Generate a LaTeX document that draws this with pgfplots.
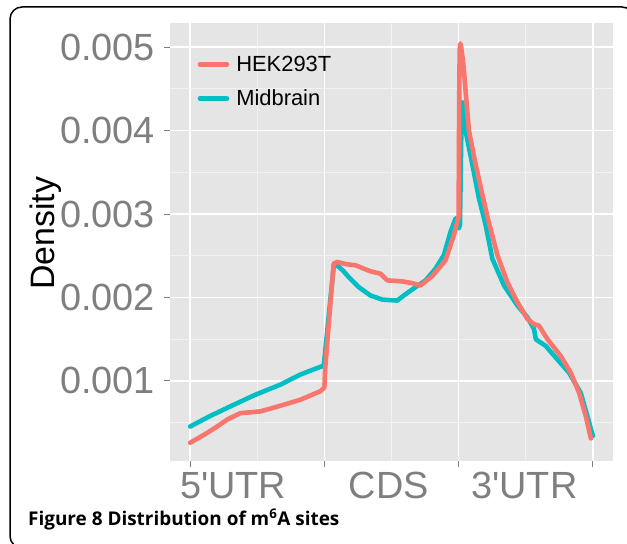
\documentclass[border=0pt]{standalone}
\usepackage{fontspec}
\setmainfont{Liberation Sans}
\newfontfamily\capfont{Open Sans}
\usepackage{pgfplots}
\pgfplotsset{compat=1.18}
\definecolor{hek}{HTML}{F8766D}
\definecolor{mid}{HTML}{00BFC4}
\definecolor{panel}{HTML}{E5E5E5}
\definecolor{minorgrid}{HTML}{F2F2F2}
\definecolor{tickgray}{HTML}{7F7F7F}
\begin{document}
\begin{tikzpicture}
\useasboundingbox (0,0) rectangle (627bp,544bp);
\draw[line width=1.5bp, rounded corners=12bp] (10bp,-4bp) rectangle (634bp,537bp);
\begin{axis}[
  at={(170bp,83bp)}, anchor=south west,
  scale only axis, width=443bp, height=438bp,
  xmin=-0.15, xmax=3.15, ymin=0.00004, ymax=0.00529,
  axis background/.style={fill=panel},
  axis line style={draw=none},
  tick pos=left, tick align=outside,
  major tick length=6bp, minor tick length=0pt,
  every tick/.style={tickgray, line width=1bp},
  xtick={0,1,2,3}, xticklabels={},
  minor xtick={0.5,1.5,2.5},
  extra x ticks={0.32,1.48,2.49},
  extra x tick labels={5\textquotesingle UTR,CDS,3\textquotesingle UTR},
  extra x tick style={grid=none, major tick length=0pt,
     xticklabel style={anchor=north, inner sep=0pt, yshift=-11bp}},
  ytick={0.001,0.002,0.003,0.004,0.005},
  minor ytick={0.0005,0.0015,0.0025,0.0035,0.0045},
  scaled y ticks=false,
  /pgf/number format/fixed, /pgf/number format/fixed zerofill,
  /pgf/number format/precision=3, /pgf/number format/assume math mode=true,
  yticklabel style={anchor=east, inner sep=0pt, xshift=-9bp},
  tick label style={font=\fontsize{38}{40}\selectfont, text=tickgray},
  grid=both,
  major grid style={white, line width=1.6bp},
  minor grid style={minorgrid, line width=1bp},
  ylabel={Density},
  ylabel style={at={(axis description cs:-0.26,0.52)}, anchor=base, font=\fontsize{34}{36}\selectfont, text=black},
  legend style={at={(axis description cs:0.062,0.925)}, anchor=north west, draw=none, fill=none,
     inner sep=0pt, font=\fontsize{22}{24}\selectfont, row sep=17bp, column sep=7bp,
     nodes={inner sep=0pt}},
  legend cell align=left,
  reverse legend,
  legend image code/.code={\draw[#1] (0bp,0bp) -- (27bp,0bp);},
  every axis plot/.append style={line width=4.6bp, line join=round, line cap=round},
]
\addplot[mid] coordinates {
(0.000,0.000453) (0.150,0.000580) (0.299,0.000694) (0.480,0.000830) (0.672,0.000955) (0.821,0.001076) (0.970,0.001169)
(0.995,0.001178) (1.003,0.001300) (1.069,0.002366) (1.095,0.002386) (1.140,0.002320) (1.181,0.002245)
(1.256,0.002124) (1.343,0.002024) (1.431,0.001975) (1.543,0.001963) (1.592,0.002024)
(1.679,0.002124) (1.754,0.002205) (1.828,0.002345) (1.890,0.002507) (1.940,0.002789)
(1.978,0.002949) (2.002,0.002829) (2.010,0.002870) (2.022,0.004200) (2.028,0.004339)
(2.052,0.003997) (2.102,0.003595) (2.151,0.003191) (2.201,0.002870) (2.251,0.002466)
(2.338,0.002144) (2.438,0.001903) (2.513,0.001761) (2.562,0.001620) (2.575,0.001499)
(2.649,0.001419) (2.736,0.001257) (2.823,0.001097) (2.910,0.000855) (2.960,0.000573)
(3.000,0.000340)
};
\addlegendentry{Midbrain}
\addplot[hek] coordinates {
(0.000,0.000259) (0.100,0.000350) (0.187,0.000438) (0.280,0.000540) (0.373,0.000613) (0.522,0.000634) (0.672,0.000702)
(0.821,0.000774) (0.970,0.000876) (0.996,0.000915) (1.000,0.000920) (1.006,0.001150)
(1.069,0.002406) (1.095,0.002426) (1.160,0.002400) (1.231,0.002386) (1.343,0.002314)
(1.418,0.002285) (1.468,0.002205) (1.580,0.002193) (1.654,0.002172) (1.716,0.002144)
(1.804,0.002257) (1.903,0.002447) (1.965,0.002749) (1.990,0.002909) (2.000,0.002970)
(2.004,0.004300) (2.008,0.004980) (2.013,0.005045) (2.020,0.004990) (2.036,0.004780) (2.077,0.003997) (2.127,0.003595)
(2.177,0.003232) (2.214,0.002970) (2.289,0.002507) (2.363,0.002184) (2.438,0.001943)
(2.513,0.001741) (2.562,0.001680) (2.599,0.001661) (2.662,0.001499) (2.761,0.001298)
(2.836,0.001097) (2.898,0.000855) (2.948,0.000573) (2.985,0.000311)
};
\addlegendentry{HEK293T}
\end{axis}
\node[anchor=base west, inner sep=0pt] at (28bp,19bp)
  {\capfont\fontsize{19}{21}\selectfont\bfseries Figure 8 Distribution of m\textsuperscript{6}A sites};
\end{tikzpicture}
\end{document}
